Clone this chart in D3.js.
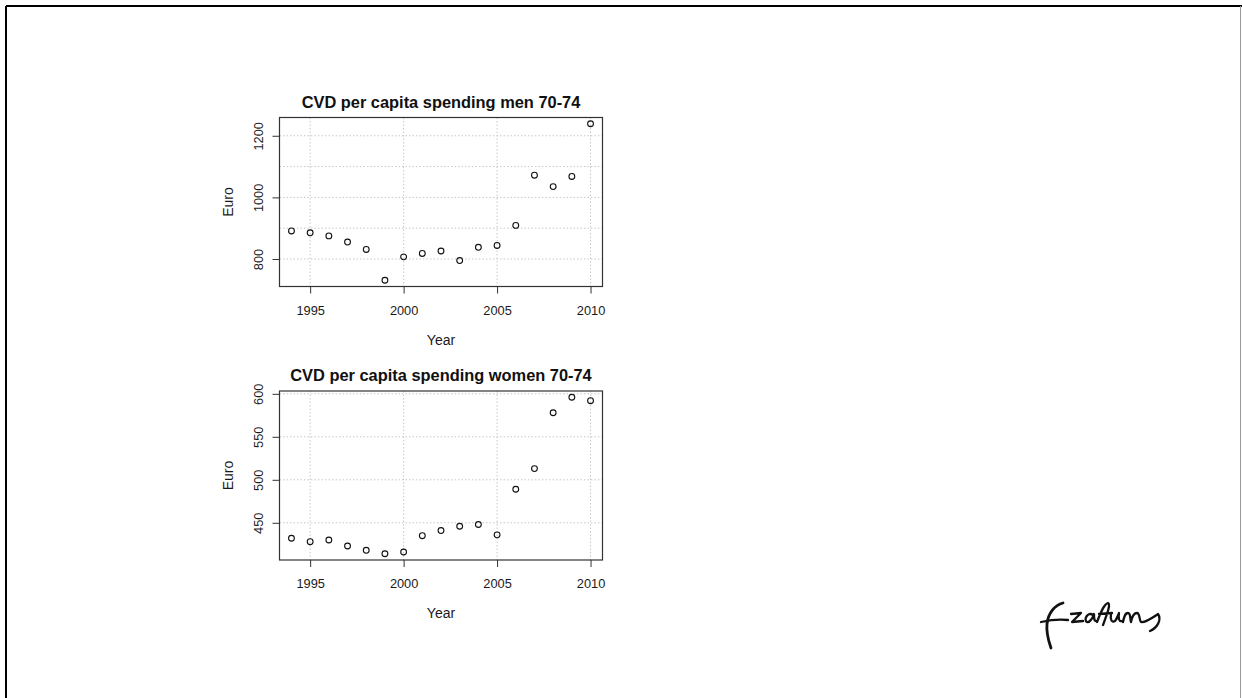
<!DOCTYPE html>
<html>
<head>
<meta charset="utf-8">
<script src="https://cdn.jsdelivr.net/npm/d3@7"></script>
<style>
  body { margin: 0; background: #fff; }
  svg { display: block; font-family: "Liberation Sans", Arial, sans-serif; }
</style>
</head>
<body>
<svg id="slide" width="1242" height="698"></svg>
<script>
// data
years = [1994, 1995, 1996, 1997, 1998, 1999, 2000, 2001, 2002, 2003, 2004, 2005, 2006, 2007, 2008, 2009, 2010]
menSpending = [891, 885, 875, 855, 831, 731, 807, 818, 826, 795, 838, 844, 909, 1072, 1035, 1068, 1239]
womenSpending = [432, 428, 430, 423, 418, 414, 416, 435, 441, 446, 448, 436, 489, 513, 578, 596, 592]
yearTicks = [1995, 2000, 2005, 2010]
menTicks = [800, 1000, 1200]
menGrid = [800, 900, 1000, 1100, 1200]
womenTicks = [450, 500, 550, 600]
titles = ["CVD per capita spending men 70-74", "CVD per capita spending women 70-74"]

svg = d3.select("#slide")

// slide frame
svg.append("line").attr("x1", 6).attr("x2", 1242).attr("y1", 6).attr("y2", 6)
    .attr("stroke", "#000").attr("stroke-width", 2)
svg.append("line").attr("x1", 6).attr("x2", 6).attr("y1", 6).attr("y2", 698)
    .attr("stroke", "#000").attr("stroke-width", 2)
svg.append("line").attr("x1", 1240.5).attr("x2", 1240.5).attr("y1", 6).attr("y2", 698)
    .attr("stroke", "#999").attr("stroke-width", 1)

// R style range: data extent padded by 4%
function rRange(vals){
    lo = d3.min(vals); hi = d3.max(vals)
    pad = (hi - lo) * 0.04
    return [lo - pad, hi + pad]
}

function panel(values, ticks, grid, title, top, bottom){
    left = 279.5
    right = 602.5

    x = d3.scaleLinear().domain(rRange(years)).range([left, right])
    y = d3.scaleLinear().domain(rRange(values)).range([bottom, top])

    g = svg.append("g")

    // grid
    g.selectAll(".vgrid").data(yearTicks).join("line")
        .attr("x1", d => x(d)).attr("x2", d => x(d))
        .attr("y1", top).attr("y2", bottom)
        .attr("stroke", "#c8c8c8").attr("stroke-dasharray", "1.5,2")
    g.selectAll(".hgrid").data(grid).join("line")
        .attr("x1", left).attr("x2", right)
        .attr("y1", d => y(d)).attr("y2", d => y(d))
        .attr("stroke", "#c8c8c8").attr("stroke-dasharray", "1.5,2")

    // axes
    xa = g.append("g").attr("transform", `translate(0,${bottom})`)
        .call(d3.axisBottom(x).tickValues(yearTicks).tickFormat(d3.format("d")).tickSize(7).tickPadding(12))
    xa.select(".domain").remove()
    xa.selectAll("line").attr("stroke", "#333")
    xa.selectAll("text").attr("font-size", 12.8).attr("fill", "#1a1a1a")

    ya = g.append("g").attr("transform", `translate(${left},0)`)
        .call(d3.axisLeft(y).tickValues(ticks).tickFormat(d3.format("d")).tickSize(7))
    ya.select(".domain").remove()
    ya.selectAll("line").attr("stroke", "#333")
    ya.selectAll("text")
        .attr("font-size", 12.8).attr("fill", "#1a1a1a")
        .attr("x", null).attr("dy", null)
        .attr("text-anchor", "middle")
        .attr("transform", "translate(-17,0) rotate(-90)")

    // box
    g.append("rect").attr("x", left).attr("y", top)
        .attr("width", right - left).attr("height", bottom - top)
        .attr("fill", "none").attr("stroke", "#333").attr("stroke-width", 1.2)

    // points
    g.selectAll("circle").data(values).join("circle")
        .attr("cx", (d, i) => x(years[i]))
        .attr("cy", d => y(d))
        .attr("r", 2.9)
        .attr("fill", "none").attr("stroke", "#111").attr("stroke-width", 1.1)

    // labels
    g.append("text").text(title)
        .attr("x", (left + right) / 2).attr("y", top - 10)
        .attr("text-anchor", "middle").attr("font-weight", "bold")
        .attr("font-size", 16.4).attr("fill", "#111")
    g.append("text").text("Year")
        .attr("x", (left + right) / 2).attr("y", bottom + 58)
        .attr("text-anchor", "middle").attr("font-size", 14).attr("fill", "#1a1a1a")
    g.append("text").text("Euro")
        .attr("transform", `translate(${left - 47},${(top + bottom) / 2}) rotate(-90)`)
        .attr("text-anchor", "middle").attr("font-size", 14).attr("fill", "#1a1a1a")
}

panel(menSpending, menTicks, menGrid, titles[0], 117.5, 286.5)
panel(womenSpending, womenTicks, womenTicks, titles[1], 391, 560)

// Erasmus signature logo
sig = svg.append("g").attr("fill", "none").attr("stroke", "#111")
    .attr("stroke-linecap", "round").attr("stroke-linejoin", "round")
sig.append("path").attr("stroke-width", 2.8)
    .attr("d", "M1063,603 C1055,605 1048,613 1047,624 C1046,634 1049,642 1051,648")
sig.append("path").attr("stroke-width", 2.3)
    .attr("d", "M1041,622 C1050,620 1060,619 1068,620")
sig.append("path").attr("stroke-width", 2.3)
    .attr("d", "M1071,614 L1081,613 L1072,622 L1083,621 " +
        "M1093,615 C1088,611 1083,620 1087,622 C1090,623 1093,617 1094,614 C1094,618 1094,622 1097,621 " +
        "M1097,622 C1101,612 1104,604 1108,603 C1111,604 1107,614 1103,625 M1099,614 L1112,613 " +
        "M1111,614 C1110,620 1112,623 1115,621 C1117,619 1118,615 1119,613 C1118,618 1119,622 1122,621 " +
        "M1123,622 C1124,617 1125,613 1128,613 C1131,613 1130,620 1131,622 C1132,617 1134,613 1137,613 " +
        "C1140,613 1139,620 1141,622 C1145,623 1152,618 1158,614 C1162,620 1157,628 1150,631")
</script>
</body>
</html>
